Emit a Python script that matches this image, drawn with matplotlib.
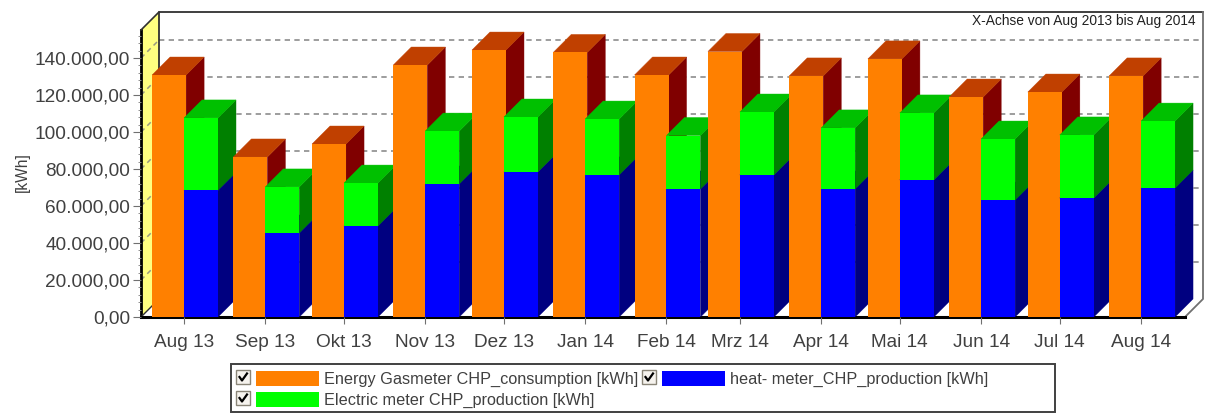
import matplotlib
matplotlib.use("Agg")
import matplotlib.pyplot as plt
import matplotlib.ticker as mticker
from matplotlib.patches import Polygon, Rectangle
import pandas as pd

W, H = 1208, 419

# Data (kWh)
month_starts = ["2013-08-01", "2013-09-01", "2013-10-01", "2013-11-01", "2013-12-01",
                "2014-01-01", "2014-02-01", "2014-03-01", "2014-04-01", "2014-05-01",
                "2014-06-01", "2014-07-01", "2014-08-01"]
month_labels = ["Aug 13", "Sep 13", "Okt 13", "Nov 13", "Dez 13", "Jan 14", "Feb 14",
                "Mrz 14", "Apr 14", "Mai 14", "Jun 14", "Jul 14", "Aug 14"]
gas = [130800, 86500, 93500, 136200, 144300, 143000, 130800,
       143500, 130300, 139500, 118900, 121600, 130300]
heat = [68500, 45400, 49200, 71900, 78400, 76800, 69200,
        76800, 69200, 74100, 63200, 64300, 69700]
electric = [39100, 24900, 23200, 28600, 29700, 30200, 28900,
            34000, 33000, 36200, 33000, 34100, 36200]

y_ticks = [0, 20000, 40000, 60000, 80000, 100000, 120000, 140000]
y_labels = ["0,00", "20.000,00", "40.000,00", "60.000,00", "80.000,00",
            "100.000,00", "120.000,00", "140.000,00"]

gas_label = "Energy Gasmeter CHP_consumption [kWh]"
heat_label = "heat- meter_CHP_production [kWh]"
electric_label = "Electric meter CHP_production [kWh]"

ORANGE = ("#ff8000", "#c04000", "#800000")  # front, top, side
GREEN = ("#00ff00", "#00c000", "#008000")
BLUE = ("#0000ff", "#0000c0", "#000080")
TEXT = "#404040"

plt.rcParams["font.family"] = ["Liberation Sans", "DejaVu Sans"]

days = (pd.to_datetime(month_starts) - pd.to_datetime(month_starts[0])).days.to_numpy()

# The x axis is a real date axis: 2.622 px per day, first month at px 184
PX_DAY = 2.622
PX_VALUE = 1.85 / 1000
x_min = (141 - 184) / PX_DAY
x_max = (1185 - 184) / PX_DAY
y_max = 287 / PX_VALUE
dx = 18 / PX_DAY    # 3d depth in data units
dy = 18 / PX_VALUE
bar_w = 34 / PX_DAY

fig = plt.figure(figsize=(W / 100, H / 100), dpi=100, facecolor="white")
ax = fig.add_axes([141 / W, 1 - 317 / H, (1185 - 141) / W, 287 / H])
ax.set_xlim(x_min, x_max)
ax.set_ylim(0, y_max)
for s in ax.spines.values():
    s.set_visible(False)


def poly(points, color, z, edge=None, lw=0):
    ax.add_patch(Polygon(points, closed=True, facecolor=color, edgecolor=edge or color,
                         linewidth=lw, zorder=z, clip_on=False))


def bar3d(x, bottom, top, colors, z):
    # front through the axes' own bar, top and side as parallelograms
    ax.bar(x, top - bottom, width=bar_w, bottom=bottom, align="edge", color=colors[0],
           linewidth=0, zorder=z + 0.2)
    r = x + bar_w
    poly([(r, bottom), (r + dx, bottom + dy), (r + dx, top + dy), (r, top)], colors[2], z, lw=0.3)
    poly([(x, top), (x + dx, top + dy), (r + dx, top + dy), (r, top)], colors[1], z, lw=0.3)


# walls
poly([(x_min, 0), (x_min + dx, dy), (x_min + dx, y_max + dy), (x_min, y_max)], "#ffff80", 1)
ax.plot([x_min + dx, x_min + dx, x_max + dx], [dy, y_max + dy, y_max + dy],
        color="#303030", lw=1.3, zorder=1.5, clip_on=False)
ax.plot([x_max + dx, x_max + dx, x_max], [y_max + dy, dy, 0],
        color="#707070", lw=1.3, zorder=1.5, clip_on=False)
ax.plot([x_min, x_min], [0, y_max], color="black", lw=2, zorder=1.5, clip_on=False)
ax.plot([x_min, x_min + dx], [y_max, y_max + dy], color="#303030", lw=1.2, zorder=1.5, clip_on=False)
ax.plot([x_min, x_min + dx], [0, dy], color="#303030", lw=1, zorder=1.5, clip_on=False)
ax.plot([x_min, x_max], [0, 0], color="black", lw=2.2, zorder=1.5, clip_on=False)

# gridlines on the back wall and across the yellow side wall
for v in y_ticks[1:]:
    ax.plot([x_min + dx, x_max + dx], [v + dy, v + dy], color="#8c8c8c", lw=1.2,
            dashes=(3.2, 2.6), zorder=1.2, clip_on=False)
    ax.plot([x_min, x_min + dx], [v, v + dy], color="#9a9a80", lw=1.1,
            dashes=(3.2, 2.6), zorder=1.2, clip_on=False)

# bars, left to right so the later ones hide the earlier sides
for i, x in enumerate(days):
    z = 2 + i
    bar3d(x - bar_w + 0.8, 0, gas[i], ORANGE, z)
    bar3d(x, 0, heat[i], BLUE, z + 0.4)
    bar3d(x, heat[i], heat[i] + electric[i], GREEN, z + 0.5)

ax.set_xticks(days, month_labels)
ax.set_yticks(y_ticks, y_labels)
ax.yaxis.set_minor_locator(mticker.MultipleLocator(4000))
ax.tick_params(axis="x", which="major", length=5, width=0.8, color="#707070",
               labelsize=13.7, labelcolor=TEXT, pad=7)
ax.tick_params(axis="y", which="major", length=6, width=0.8, color="#707070",
               labelsize=13.7, labelcolor=TEXT, pad=2)
ax.tick_params(axis="y", which="minor", length=2, width=0.7, color="#909090")
ax.set_axisbelow(False)

fig.text(22 / W, 1 - 172 / H, "[kWh]", rotation=90, ha="center", va="center",
         fontsize=11.2, color=TEXT)
fig.text(1196 / W, 1 - 21 / H, "X-Achse von Aug 2013 bis Aug 2014", ha="right", va="center",
         fontsize=9.9, color="#202020")

# legend with its check boxes, laid out in figure pixels
leg = fig.add_axes([0, 0, 1, 1], zorder=50)
leg.set_xlim(0, W)
leg.set_ylim(H, 0)
leg.axis("off")
leg.patch.set_alpha(0)
leg.add_patch(Rectangle((231, 364), 824, 48, facecolor="white", edgecolor="#404040", linewidth=1.4))


def legend_entry(x, y, color, label):
    leg.add_patch(Rectangle((x, y), 14, 14, facecolor="#f6f3ee", edgecolor="#8a8578", linewidth=1))
    leg.plot([x + 3.5, x + 6, x + 11], [y + 7, y + 10.5, y + 3.5], color="black", lw=1.6)
    leg.add_patch(Rectangle((x + 20, y + 1), 63, 15, facecolor=color, linewidth=0))
    leg.text(x + 88, y + 9, label, ha="left", va="center", fontsize=11.7, color=TEXT)


legend_entry(236, 370, ORANGE[0], gas_label)
legend_entry(642, 370, BLUE[0], heat_label)
legend_entry(236, 391, GREEN[0], electric_label)

fig.savefig("out.png", dpi=100)
plt.close(fig)
